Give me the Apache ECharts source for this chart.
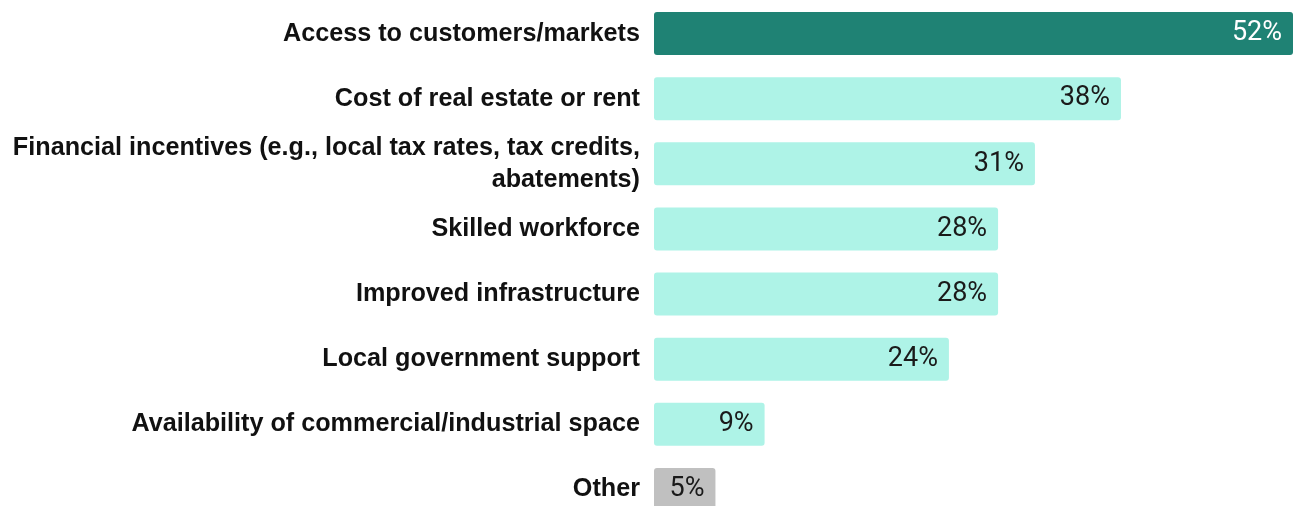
<!DOCTYPE html>
<html>
<head>
<meta charset="utf-8">
<script src="https://cdn.jsdelivr.net/npm/echarts@6/dist/echarts.min.js"></script>
<style>html,body{margin:0;padding:0;background:#fff;}#c{width:1295px;height:506px;}</style>
</head>
<body>
<div id="c"></div>
<script>
const categories = [
  'Access to customers/markets',
  'Cost of real estate or rent',
  'Financial incentives (e.g., local tax rates, tax credits,\nabatements)',
  'Skilled workforce',
  'Improved infrastructure',
  'Local government support',
  'Availability of commercial/industrial space',
  'Other'
];
const values = [52, 38, 31, 28, 28, 24, 9, 5];
const barColors = ['#1f8274', '#aef3e7', '#aef3e7', '#aef3e7', '#aef3e7', '#aef3e7', '#aef3e7', '#c0c0c0'];
const labelColors = ['#ffffff', '#1a1a1a', '#1a1a1a', '#1a1a1a', '#1a1a1a', '#1a1a1a', '#1a1a1a', '#1a1a1a'];

const chart = echarts.init(document.getElementById('c'), null, {renderer: 'canvas'});
chart.setOption({
  animation: false,
  grid: {left: 654, right: 2, top: 1, height: 521, containLabel: false, outerBoundsMode: 'none'},
  xAxis: {type: 'value', min: 0, max: 52, show: false},
  yAxis: {
    type: 'category', inverse: true, data: categories,
    axisLine: {show: false}, axisTick: {show: false},
    axisLabel: {
      margin: 14, color: '#111', fontFamily: "'Liberation Sans', Arial, sans-serif",
      fontWeight: 'bold', fontSize: 25.2, lineHeight: 32, align: 'right',
      padding: [6, 0, 0, 0]
    }
  },
  series: [{
    type: 'bar',
    barWidth: 43,
    data: values.map((v, i) => ({
      value: v,
      itemStyle: {color: barColors[i], borderRadius: 3},
      label: {color: labelColors[i]}
    })),
    label: {
      show: true, position: 'insideRight', distance: 11,
      formatter: p => p.value + '%',
      fontFamily: 'Roboto, sans-serif', fontSize: 27, fontWeight: 'normal'
    }
  }]
});
</script>
</body>
</html>
